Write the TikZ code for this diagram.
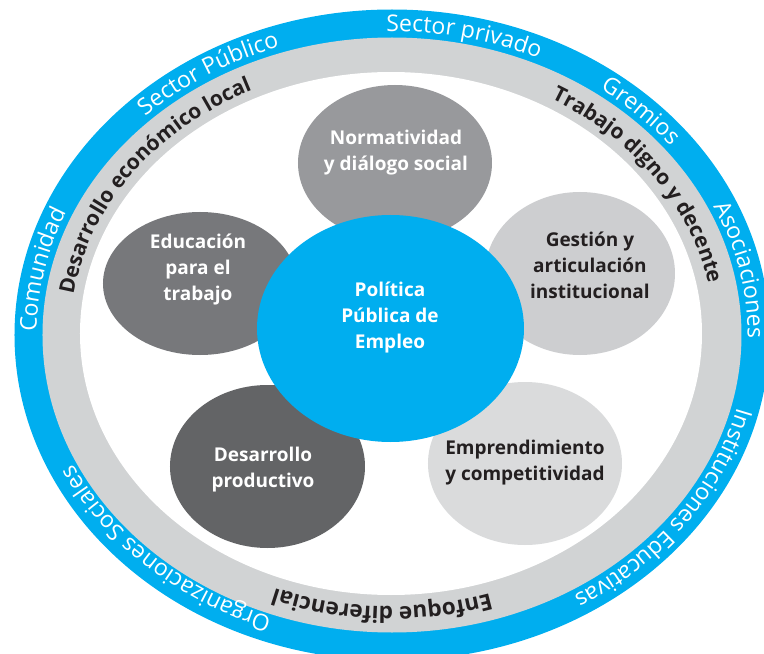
\documentclass[tikz,border=0pt]{standalone}
\usepackage{fontspec}
\setmainfont{Open Sans}
\usetikzlibrary{shapes.geometric,decorations.text}

\definecolor{ringblue}{HTML}{00AEEF}
\definecolor{ringgrey}{HTML}{D1D3D4}
\definecolor{normgrey}{HTML}{98999C}
\definecolor{edugrey}{HTML}{77787B}
\definecolor{gestgrey}{HTML}{CDCED0}
\definecolor{desagrey}{HTML}{636466}
\definecolor{empgrey}{HTML}{DADBDC}
\definecolor{darktext}{HTML}{231F20}

\newcommand{\outerfont}{\color{white}\fontsize{23pt}{23pt}\selectfont}
\newcommand{\innerfont}{\color{darktext}\bfseries\fontsize{21pt}{21pt}\selectfont}
\newcommand{\bottomfont}{\color{darktext}\bfseries\fontsize{22.5pt}{22.5pt}\selectfont}

\begin{document}
\begin{tikzpicture}[x=1pt, y=1pt,
	bubble/.style={ellipse, inner sep=0pt, draw=none},
	lbl/.style={align=center, inner sep=0pt, font=\bfseries\fontsize{19pt}{26pt}\selectfont},
	bluearc/.style={x radius=355.5pt, y radius=303.5pt},
	greyarc/.style={x radius=322pt, y radius=271.5pt}]
			\useasboundingbox (-392,-319) rectangle (372,335);
			\clip (-392,-319) rectangle (372,335);
			
			% rings
			\fill[ringblue] (0,0) ellipse [x radius=377.5pt, y radius=325.5pt];
			\fill[ringgrey] (0,0) ellipse [x radius=349.5pt, y radius=297.5pt];
			\fill[white] (-1,1.5) ellipse [x radius=311pt, y radius=261.5pt];
			
			% outer words
			\path[decorate, decoration={text along path, text align=center, text={|\outerfont|Sector privado}}] (137:355.5pt and 303.5pt) arc[bluearc, start angle=137, end angle=17];
			\path[decorate, decoration={text along path, text align=center, text={|\outerfont|Sector Público}}] (184:355.5pt and 303.5pt) arc[bluearc, start angle=184, end angle=64];
			\path[decorate, decoration={text along path, text align=center, text={|\outerfont|Gremios}}] (103:355.5pt and 303.5pt) arc[bluearc, start angle=103, end angle=-17];
			\path[decorate, decoration={text along path, text align=center, text={|\outerfont|Asociaciones}}] (71:355.5pt and 303.5pt) arc[bluearc, start angle=71, end angle=-49];
			\path[decorate, decoration={text along path, text align=center, text={|\outerfont|Instituciones Educativas}}] (26:355.5pt and 303.5pt) arc[bluearc, start angle=26, end angle=-94];
			\path[decorate, decoration={text along path, text align=center, text={|\outerfont|Organizaciones Sociales}}] (-75:353pt and 300pt) arc[x radius=353pt, y radius=300pt, start angle=-75, end angle=-195];
			\path[decorate, decoration={text along path, text align=center, text={|\outerfont|Comunidad}}] (229:355.5pt and 303.5pt) arc[bluearc, start angle=229, end angle=109];
			
			\path[decorate, decoration={text along path, text align=center, text={|\innerfont|Desarrollo económico local}}] (206:322pt and 271.5pt) arc[greyarc, start angle=206, end angle=86];
			\path[decorate, decoration={text along path, text align=center, text={|\innerfont|Trabajo digno y decente}}] (93:322pt and 271.5pt) arc[greyarc, start angle=93, end angle=-27];
			\path[decorate, decoration={text along path, text align=center, text={|\bottomfont|Enfoque diferencial}}] (-32:322pt and 271.5pt) arc[greyarc, start angle=-32, end angle=-152];
			
			% bubbles
			\node[bubble, fill=normgrey, minimum width=194pt, minimum height=156pt] (b) at (3,172) {};
			\node[bubble, fill=edugrey, minimum width=194pt, minimum height=143pt] (c) at (-192,51.5) {};
			\node[bubble, fill=gestgrey, minimum width=190pt, minimum height=163pt] (d) at (188,61.5) {};
			\node[bubble, fill=desagrey, minimum width=195pt, minimum height=163pt] (e) at (-124.5,-131.5) {};
			\node[bubble, fill=empgrey, minimum width=194pt, minimum height=163pt] (f) at (133,-128.5) {};
			\node[bubble, fill=ringblue, minimum width=267pt, minimum height=227pt] (a) at (-1.5,6.5) {};
			
			\node[lbl, text=white] (at) at (-2,17) {Política\\Pública de\\Empleo};
			\node[lbl, text=white] (bt) at (4,182) {Normatividad\\y diálogo social};
			\node[lbl, text=white] (ct) at (-194,65) {Educación\\para el\\trabajo};
			\node[lbl, text=darktext] (dt) at (198,70) {Gestión y\\articulación\\institucional};
			\node[lbl, text=white] (et) at (-129,-135) {Desarrollo\\productivo};
			\node[lbl, text=darktext] (ft) at (133,-128) {Emprendimiento\\y competitividad};
			\end{tikzpicture}
\end{document}
